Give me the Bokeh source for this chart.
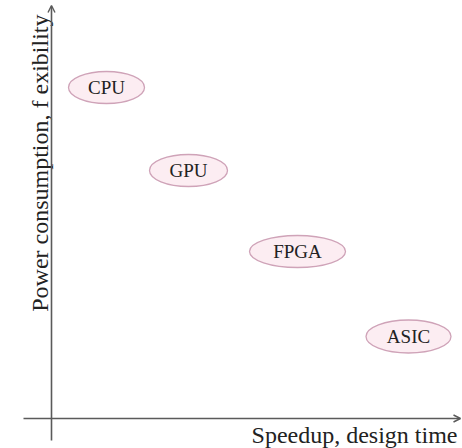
from bokeh.plotting import figure
from bokeh.models import Range1d, Arrow, OpenHead, ColumnDataSource
from bokeh.core.properties import value
from bokeh.embed import file_html
from bokeh.resources import INLINE

# Conceptual positions (arbitrary units) of each device class
devices = ["CPU", "GPU", "FPGA", "ASIC"]
speedup = [5.5, 13.7, 24.6, 35.7]
power = [33.1, 24.8, 16.7, 8.2]
bubble_w = [7.6, 7.8, 9.6, 8.5]
bubble_h = [3.2, 3.2, 3.2, 3.3]

x_title = "Speedup, design time"
y_title = "Power consumption, f exibility"

src = ColumnDataSource(dict(x=speedup, y=power, w=bubble_w, h=bubble_h, name=devices))

p = figure(width=462, height=448,
           x_range=Range1d(-5.1, 41.1), y_range=Range1d(-3.0, 41.8),
           x_axis_type=None, y_axis_type=None,
           output_backend="svg", toolbar_location=None, min_border=0)
p.grid.visible = False
p.outline_line_color = None
p.background_fill_color = "white"
p.border_fill_color = "white"

axis_col = "#5a5a5a"
# axes drawn as arrows through the origin
p.add_layout(Arrow(end=OpenHead(size=7, line_color=axis_col, line_width=1.4),
                   x_start=-2.8, y_start=0, x_end=40.9, y_end=0,
                   line_color=axis_col, line_width=1.6))
p.add_layout(Arrow(end=OpenHead(size=7, line_color=axis_col, line_width=1.4),
                   x_start=0, y_start=-2.2, x_end=0, y_end=41.3,
                   line_color=axis_col, line_width=1.6))

p.ellipse(x="x", y="y", width="w", height="h", source=src,
          fill_color="#fcedf2", line_color="#cfa3b8", line_width=1.3)
p.text(x="x", y="y", text="name", source=src,
       text_font=value("Liberation Serif"), text_font_size="19px",
       text_align="center", text_baseline="middle", text_color="#222222")

p.text(x=[40.6], y=[-2.9], text=[x_title],
       text_font=value("Liberation Serif"), text_font_size="24px",
       text_align="right", text_baseline="bottom", text_color="#222222")
p.text(x=[-1.15], y=[40.4], text=[y_title], angle=1.5708,
       text_font=value("Liberation Serif"), text_font_size="24px",
       text_align="right", text_baseline="alphabetic", text_color="#222222")

open("out.html", "w").write(file_html(p, INLINE))
